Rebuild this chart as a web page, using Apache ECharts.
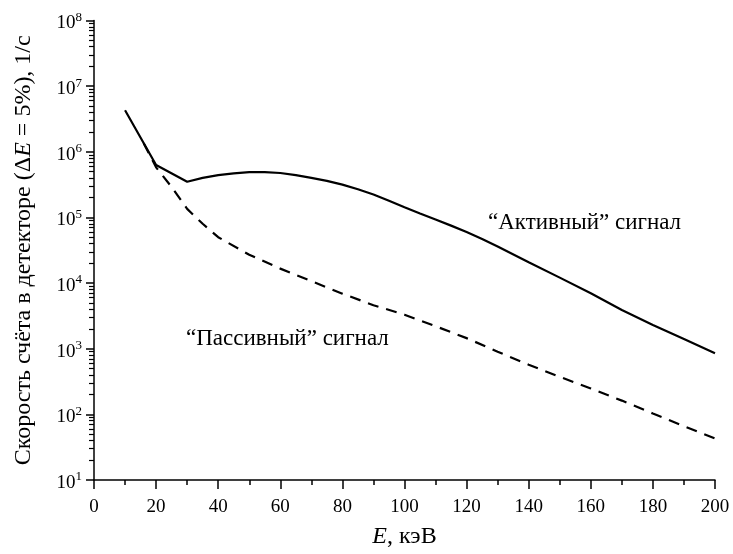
<!DOCTYPE html>
<html><head><meta charset="utf-8">
<script src="https://cdn.jsdelivr.net/npm/echarts@6/dist/echarts.min.js"></script>
<style>html,body{margin:0;padding:0;background:#fff}#c{width:733px;height:554px}</style>
</head><body><div id="c"></div>
<script>
// Energy E, keV
const energyActive = [10, 20, 30, 35, 40, 45, 50, 55, 60, 65, 70, 75, 80, 85, 90, 95, 100, 105, 110, 115, 120, 125, 130, 140, 150, 160, 170, 180, 190, 200];
const activeRate = [4.3e6, 6.3e5, 3.5e5, 4.0e5, 4.4e5, 4.7e5, 4.9e5, 4.9e5, 4.75e5, 4.4e5, 4.0e5, 3.6e5, 3.16e5, 2.69e5, 2.24e5, 1.8e5, 1.43e5, 1.15e5, 9.3e4, 7.5e4, 6.0e4, 4.7e4, 3.6e4, 2.08e4, 1.21e4, 7.0e3, 3.9e3, 2.3e3, 1.4e3, 850];
const energyPassive = [16, 20, 25, 30, 35, 40, 50, 60, 70, 80, 90, 100, 110, 120, 130, 140, 150, 160, 170, 180, 190, 200];
const passiveRate = [1.35e6, 5.8e5, 2.9e5, 1.35e5, 8.0e4, 5.0e4, 2.7e4, 1.66e4, 1.07e4, 6.9e3, 4.6e3, 3.3e3, 2.2e3, 1.45e3, 900, 570, 373, 248, 162, 103, 66, 43];
const xTicks = [0, 200, 20];
const yRange = [10, 1e8];
const yMinorTicks = [];
for (let e = 1; e < 8; e++) for (let m = 2; m <= 9; m++) yMinorTicks.push(m * Math.pow(10, e));
const labelActive = '“Активный” сигнал';
const labelPassive = '“Пассивный” сигнал';

const FONT = '"Liberation Serif", "DejaVu Serif", serif';
const chart = echarts.init(document.getElementById('c'), null, {renderer: 'canvas'});
const zip = (xs, ys) => xs.map((x, i) => [x, ys[i]]);
const supFmt = v => '{b|10}{s|' + Math.round(Math.log10(v)) + '}';
const labelRich = {
  b: {fontFamily: FONT, fontSize: 19, color: '#000', padding: [6, 0, 0, 0]},
  s: {fontFamily: FONT, fontSize: 13, color: '#000', verticalAlign: 'bottom', padding: [0, 0, 9, 0]}
};
chart.setOption({
  animation: false,
  backgroundColor: '#fff',
  grid: {left: 94, right: 18, top: 20.5, bottom: 74, containLabel: false, outerBoundsMode: 'none'},
  xAxis: {
    type: 'value', min: xTicks[0], max: xTicks[1], interval: xTicks[2],
    axisLine: {lineStyle: {color: '#000', width: 1.5}},
    axisTick: {length: 9, lineStyle: {color: '#000', width: 1.5}},
    minorTick: {show: true, splitNumber: 2, length: 5, lineStyle: {color: '#000', width: 1.5}},
    splitLine: {show: false},
    axisLabel: {fontFamily: FONT, fontSize: 19, color: '#000', margin: 18},
    name: '{i|E}, кэВ', nameLocation: 'middle', nameGap: 45,
    nameTextStyle: {fontFamily: FONT, fontSize: 24, color: '#000',
      rich: {i: {fontFamily: FONT, fontSize: 24, fontStyle: 'italic', color: '#000'}}}
  },
  yAxis: [{
    type: 'log', logBase: 10, min: yRange[0], max: yRange[1],
    axisLine: {show: true, lineStyle: {color: '#000', width: 1.5}},
    axisTick: {show: true, length: 8, lineStyle: {color: '#000', width: 1.5}},
    splitLine: {show: false},
    axisLabel: {formatter: supFmt, rich: labelRich, margin: 12},
    name: 'Скорость счёта в детекторе (Δ{i|E} = 5%), 1/с', nameLocation: 'middle', nameGap: 58,
    nameTextStyle: {fontFamily: FONT, fontSize: 24, color: '#000',
      rich: {i: {fontFamily: FONT, fontSize: 24, fontStyle: 'italic', color: '#000'}}}
  }, {
    type: 'log', logBase: 10, min: yRange[0], max: yRange[1], position: 'left',
    axisLine: {show: false},
    axisTick: {show: true, length: 5, customValues: yMinorTicks, lineStyle: {color: '#000', width: 1.2}},
    axisLabel: {show: false},
    splitLine: {show: false}
  }],
  series: [{
    type: 'line', data: zip(energyActive, activeRate), showSymbol: false, symbol: 'none',
    lineStyle: {color: '#000', width: 2.2}
  }, {
    type: 'line', data: zip(energyPassive, passiveRate), showSymbol: false, symbol: 'none',
    lineStyle: {color: '#000', width: 2.2, type: [11, 8]}
  }],
  graphic: [
    {type: 'text', left: 488, top: 211, style: {text: labelActive, font: '23px ' + FONT, fill: '#000'}},
    {type: 'text', left: 186, top: 327, style: {text: labelPassive, font: '23px ' + FONT, fill: '#000'}}
  ]
});
</script></body></html>
